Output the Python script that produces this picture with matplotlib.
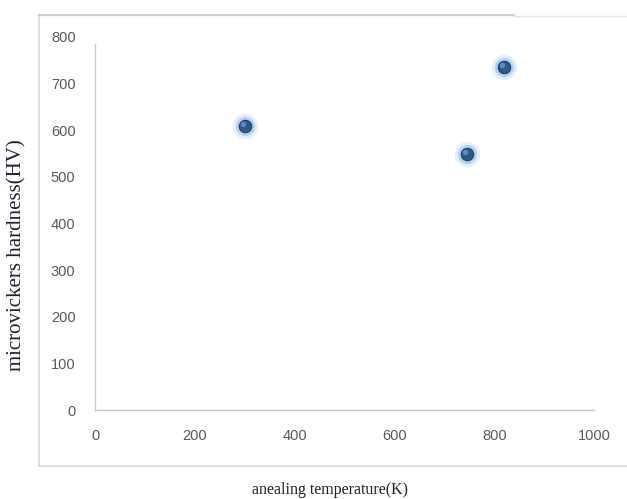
import numpy as np
import matplotlib
matplotlib.use("Agg")
import matplotlib.pyplot as plt
from matplotlib.lines import Line2D

# data
temperature = [300, 745, 820]
hardness = [610, 550, 735]

x_ticks = [0, 200, 400, 600, 800, 1000]
y_ticks = [0, 100, 200, 300, 400, 500, 600, 700, 800]

fig = plt.figure(figsize=(6.27, 4.99), dpi=100)
W, H = 627, 499
ax = fig.add_axes([95 / W, 1 - 410 / H, (594 - 95) / W, (410 - 37) / H])

# glow + marker
ax.scatter(temperature, hardness, s=330, color="#a8cbf3", alpha=0.3, lw=0, zorder=2)
ax.scatter(temperature, hardness, s=190, color="#8ab6ea", alpha=0.5, lw=0, zorder=3)
ax.scatter(temperature, hardness, s=80, color="#2e5a8c", edgecolor="#1f3f66", lw=0.8, zorder=4)
ax.scatter([t - 4 for t in temperature], [h + 4 for h in hardness], s=15,
           color="#5b8cc4", lw=0, zorder=5)

ax.set_xlim(0, 1000)
ax.set_ylim(0, 800)
ax.set_xticks(x_ticks)
ax.set_yticks(y_ticks)
for s in ["top", "right"]:
    ax.spines[s].set_visible(False)
for s in ["left", "bottom"]:
    ax.spines[s].set_color("#c8c8c8")
    ax.spines[s].set_linewidth(1)
ax.spines["left"].set_bounds(0, 785)
ax.tick_params(length=0, labelsize=10.5, labelcolor="#595959")
for lab in ax.get_xticklabels() + ax.get_yticklabels():
    lab.set_family(["Liberation Sans Narrow", "Liberation Sans"])
ax.tick_params(axis="x", pad=14)
ax.tick_params(axis="y", pad=14)

fig.text(330 / W, 1 - 490 / H, "anealing temperature(K)", ha="center", va="center",
         family="Liberation Serif", fontsize=11.5, color="#222222")
fig.text(17 / W, 1 - 255 / H, "microvickers hardness(HV)", ha="center", va="center",
         rotation=90, family="Liberation Serif", fontsize=15, color="#222233")

# chart frame
fig.add_artist(Line2D([39 / W, 39 / W], [1 - 15 / H, 1 - 466 / H], color="#d9d9d9", lw=1.2))
fig.add_artist(Line2D([39 / W, 1.0], [1 - 466 / H, 1 - 466 / H], color="#d9d9d9", lw=1.2))
fig.add_artist(Line2D([39 / W, 514 / W], [1 - 15 / H, 1 - 15 / H], color="#d0d0d0", lw=1.6))
fig.add_artist(Line2D([514 / W, 1.0], [1 - 15.5 / H, 1 - 15.5 / H], color="#e6e6e6", lw=1))

fig.savefig("out.png", dpi=100)
